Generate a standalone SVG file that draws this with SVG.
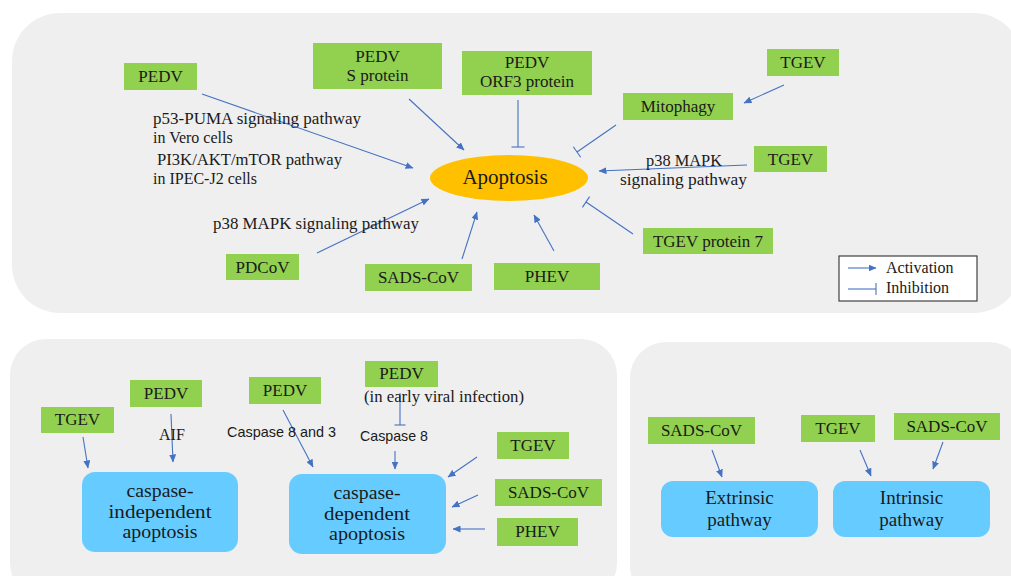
<svg xmlns="http://www.w3.org/2000/svg" width="1011" height="576" viewBox="0 0 1011 576">
<defs>
<style>
.panel{fill:#efefef;}
.g{fill:#92d050;}
.b{fill:#66ccff;}
.t{font-family:"Liberation Serif","Times New Roman",serif;font-size:16px;fill:#1a1a1a;}
.tc{font-family:"Liberation Serif","Times New Roman",serif;font-size:17px;fill:#1a1a1a;text-anchor:middle;}
.tb{font-family:"Liberation Serif","Times New Roman",serif;font-size:19px;fill:#1a1a1a;text-anchor:middle;}
.ts{font-family:"Liberation Sans",Arial,sans-serif;font-size:15px;fill:#1a1a1a;}
.a{stroke:#4472c4;stroke-width:1.1;fill:none;marker-end:url(#ah);}
.i{stroke:#4472c4;stroke-width:1.1;fill:none;}
</style>
<marker id="ah" markerWidth="8" markerHeight="7" refX="7.5" refY="3.5" orient="auto" markerUnits="userSpaceOnUse">
<path d="M0,0 L8,3.5 L0,7 z" fill="#4472c4"/>
</marker>
</defs>
<rect width="1011" height="576" fill="#ffffff"/>
<g id="panels">
<rect class="panel" x="12" y="13" width="1010" height="300" rx="48" ry="48"/>
<rect class="panel" x="10" y="339" width="607" height="260" rx="36" ry="36"/>
<rect class="panel" x="630" y="342" width="395" height="260" rx="36" ry="36"/>
</g>
<g id="connectors">
<line class="a" x1="202" y1="94" x2="413" y2="168"/>
<line class="a" x1="409" y1="99" x2="464" y2="150"/>
<line class="i" x1="518" y1="100" x2="518" y2="147"/>
<line class="i" x1="511.5" y1="147" x2="524.5" y2="147"/>
<line class="i" x1="616" y1="125" x2="577" y2="152"/>
<line class="i" x1="573.3" y1="146.7" x2="580.7" y2="157.3"/>
<line class="a" x1="784" y1="85" x2="744" y2="103"/>
<line class="a" x1="747" y1="165" x2="599" y2="171"/>
<line class="i" x1="633" y1="234" x2="586" y2="202"/>
<line class="i" x1="582.4" y1="207.4" x2="589.6" y2="196.6"/>
<line class="a" x1="554" y1="251" x2="534" y2="215"/>
<line class="a" x1="462" y1="259" x2="477" y2="212"/>
<line class="a" x1="317" y1="253" x2="429" y2="199"/>
<line class="a" x1="83" y1="437" x2="88" y2="468"/>
<line class="a" x1="171" y1="414" x2="173" y2="462"/>
<line class="a" x1="283" y1="410" x2="313" y2="467"/>
<line class="i" x1="400" y1="393" x2="400" y2="425"/>
<line class="i" x1="394.5" y1="425" x2="405.5" y2="425"/>
<line class="a" x1="395" y1="451" x2="395" y2="469"/>
<line class="a" x1="477" y1="457" x2="448" y2="477"/>
<line class="a" x1="478" y1="495" x2="452" y2="507"/>
<line class="a" x1="485" y1="529" x2="453" y2="529"/>
<line class="a" x1="712" y1="450" x2="722" y2="477"/>
<line class="a" x1="860" y1="450" x2="871" y2="476"/>
<line class="a" x1="943" y1="442" x2="933" y2="469"/>
</g>
<g id="labels">
<text class="t" x="153" y="124" textLength="208" lengthAdjust="spacingAndGlyphs">p53-PUMA signaling pathway</text>
<text class="t" x="153" y="143">in Vero cells</text>
<text class="t" x="157" y="165" textLength="185" lengthAdjust="spacingAndGlyphs">PI3K/AKT/mTOR pathway</text>
<text class="t" x="153" y="184">in IPEC-J2 cells</text>
<text class="t" x="213" y="229" textLength="206" lengthAdjust="spacingAndGlyphs">p38 MAPK signaling  pathway</text>
<text class="t" x="646" y="166" textLength="76" lengthAdjust="spacingAndGlyphs">p38 MAPK</text>
<text class="t" x="620" y="185" textLength="127" lengthAdjust="spacingAndGlyphs">signaling  pathway</text>
<text class="t" x="159" y="440">AIF</text>
<text class="ts" x="227" y="437" textLength="109" lengthAdjust="spacingAndGlyphs">Caspase 8 and 3</text>
<text class="t" x="364" y="402" textLength="160" lengthAdjust="spacingAndGlyphs">(in early viral infection)</text>
<text class="ts" x="360" y="441" textLength="68" lengthAdjust="spacingAndGlyphs">Caspase 8</text>
</g>
<g id="apoptosis">
<ellipse cx="509" cy="178" rx="79" ry="23" fill="#ffc000"/>
<text class="tc" x="505" y="184" style="font-size:21px">Apoptosis</text>
</g>
<g id="pedv1"><rect class="g" x="124" y="63" width="73" height="27"/><text class="tc" x="160.5" y="82">PEDV</text></g>
<g id="pedv-s"><rect class="g" x="313" y="43" width="129" height="46"/><text class="tc" x="377.5" y="62">PEDV</text><text class="tc" x="377.5" y="81">S protein</text></g>
<g id="pedv-orf3"><rect class="g" x="462" y="51" width="130" height="44"/><text class="tc" x="527" y="68">PEDV</text><text class="tc" x="527" y="87">ORF3 protein</text></g>
<g id="tgev1"><rect class="g" x="767" y="49" width="72" height="27"/><text class="tc" x="803" y="68">TGEV</text></g>
<g id="mitophagy"><rect class="g" x="623" y="93" width="110" height="27"/><text class="tc" x="678" y="112">Mitophagy</text></g>
<g id="tgev2"><rect class="g" x="754" y="146" width="73" height="26"/><text class="tc" x="790.5" y="165">TGEV</text></g>
<g id="tgev-p7"><rect class="g" x="643" y="228" width="130" height="26"/><text class="tc" x="708" y="247">TGEV protein 7</text></g>
<g id="phev1"><rect class="g" x="494" y="263" width="106" height="27"/><text class="tc" x="547" y="282">PHEV</text></g>
<g id="sads1"><rect class="g" x="365" y="264" width="107" height="27"/><text class="tc" x="418.5" y="283">SADS-CoV</text></g>
<g id="pdcov"><rect class="g" x="226" y="254" width="73" height="26"/><text class="tc" x="262.5" y="273">PDCoV</text></g>
<g id="legend">
<rect x="839" y="256" width="138" height="45" fill="#ffffff" stroke="#404040" stroke-width="1.2"/>
<line class="a" x1="848" y1="268" x2="876" y2="268"/>
<line class="i" x1="848" y1="289" x2="876" y2="289"/>
<line class="i" x1="876" y1="283" x2="876" y2="295"/>
<text class="t" x="886" y="273" style="font-size:16px">Activation</text>
<text class="t" x="886" y="293" style="font-size:16px">Inhibition</text>
</g>
<g id="tgev3"><rect class="g" x="41" y="407" width="73" height="26"/><text class="tc" x="77.5" y="425">TGEV</text></g>
<g id="pedv2"><rect class="g" x="130" y="380" width="72" height="27"/><text class="tc" x="166" y="399">PEDV</text></g>
<g id="pedv3"><rect class="g" x="249" y="377" width="72" height="27"/><text class="tc" x="285" y="396">PEDV</text></g>
<g id="pedv4"><rect class="g" x="365" y="361" width="73" height="26"/><text class="tc" x="401.5" y="379">PEDV</text></g>
<g id="tgev4"><rect class="g" x="497" y="432" width="72" height="27"/><text class="tc" x="533" y="451">TGEV</text></g>
<g id="sads2"><rect class="g" x="495" y="479" width="107" height="27"/><text class="tc" x="548.5" y="498">SADS-CoV</text></g>
<g id="phev2"><rect class="g" x="497" y="518" width="81" height="28"/><text class="tc" x="537.5" y="537">PHEV</text></g>
<g id="casp-indep"><rect class="b" x="82" y="472" width="156" height="80" rx="13" ry="13"/><text class="tb" x="160" y="497" textLength="67" lengthAdjust="spacingAndGlyphs">caspase-</text><text class="tb" x="160" y="518" textLength="103" lengthAdjust="spacingAndGlyphs">independent</text><text class="tb" x="160" y="538" textLength="75" lengthAdjust="spacingAndGlyphs">apoptosis</text></g>
<g id="casp-dep"><rect class="b" x="289" y="474" width="157" height="80" rx="13" ry="13"/><text class="tb" x="367" y="499" textLength="67" lengthAdjust="spacingAndGlyphs">caspase-</text><text class="tb" x="367" y="520" textLength="86" lengthAdjust="spacingAndGlyphs">dependent</text><text class="tb" x="367" y="540" textLength="76" lengthAdjust="spacingAndGlyphs">apoptosis</text></g>
<g id="sads3"><rect class="g" x="648" y="417" width="107" height="27"/><text class="tc" x="701.5" y="436">SADS-CoV</text></g>
<g id="tgev5"><rect class="g" x="801" y="415" width="74" height="27"/><text class="tc" x="838" y="434">TGEV</text></g>
<g id="sads4"><rect class="g" x="894" y="413" width="106" height="27"/><text class="tc" x="947" y="432">SADS-CoV</text></g>
<g id="extrinsic"><rect class="b" x="661" y="481" width="157" height="56" rx="12" ry="12"/><text class="tb" x="739.5" y="504">Extrinsic</text><text class="tb" x="739.5" y="526">pathway</text></g>
<g id="intrinsic"><rect class="b" x="833" y="481" width="157" height="56" rx="12" ry="12"/><text class="tb" x="911.5" y="504">Intrinsic</text><text class="tb" x="911.5" y="526">pathway</text></g>
</svg>
